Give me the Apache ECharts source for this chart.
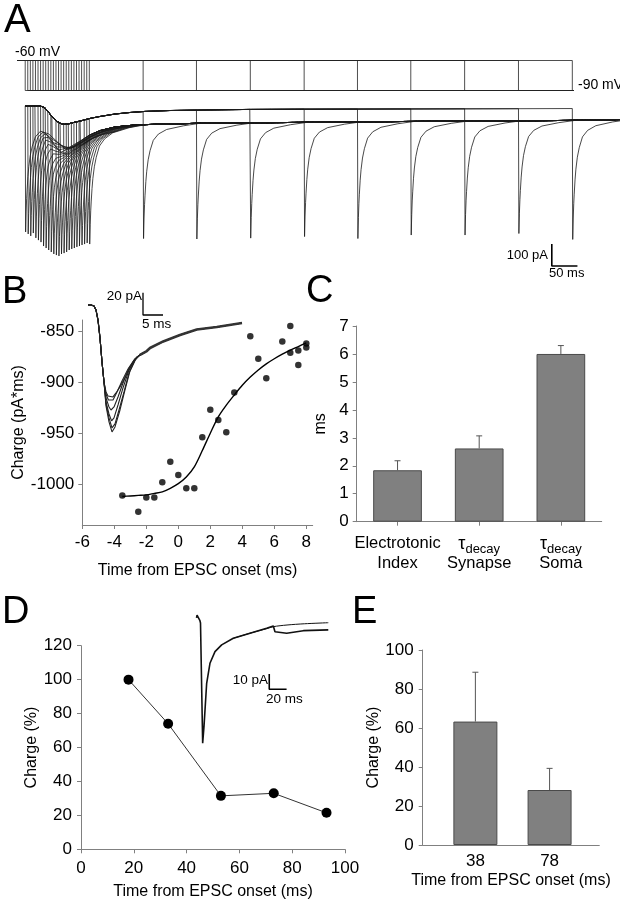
<!DOCTYPE html>
<html><head><meta charset="utf-8">
<script src="https://cdn.jsdelivr.net/npm/echarts@6/dist/echarts.min.js"></script>
<style>html,body{margin:0;padding:0;background:#fff}#c{width:620px;height:900px}</style>
</head><body><div id="c"></div>
<script>
const FONT = "'Liberation Sans', Arial, Helvetica, sans-serif";

// ---------- Panel A : voltage steps and current sweeps (ms, mV, pA) ----------
const denseOnsets = [16,21,26,31,36,41,46,51,56,61,66,71,76,81,86,91,96,101,106,111,116,121,126,131,136,141];
const densePeaks = [-568,-577,-586,-573,-595,-605,-614,-632,-641,-650,-659,-668,-673,-677,-668,-664,-659,-650,-645,-641,-636,-632,-627,-623,-618,-623];
const singleOnsets = [246,350,455,560,664,768,873,978,1083];
const singlePeaks = [-598,-600,-596,-589,-598,-582,-582,-575,-602];
// holding current at -60 mV (with the EPSC) and at -90 mV
const upperT = [16,35,47,55,60,68,76,84,92,100,111,123,142,162,191,220,250,298,357,454,552,747,942,1085];
const upperI = [5,5,3,-5,-20,-42,-62,-74,-79,-77,-70,-64,-52,-43,-32,-25,-20,-16,-14,-11,-10,-9,-8,-7];
const lowerT = [16,45,55,60,68,76,84,92,100,111,123,142,162,191,220,250,298,357,454,552,747,942,1084,1176];
const lowerI = [-64,-66,-73,-91,-123,-155,-175,-184,-184,-173,-155,-127,-107,-91,-84,-80,-77,-74,-72,-70,-66,-63,-61,-57];
// transient relaxation read from one sweep: time after peak (ms), fraction of peak left
const decayDt = [0,1,2,2.9,4.5,6.2,9,12.7,19,29,45,78,110];
const decayFrac = [1,0.82,0.7,0.62,0.5,0.41,0.31,0.23,0.14,0.086,0.048,0.019,0];
const holdMV = -60, stepMV = -90;
const vSweepEnd = 1085;

// ---------- Panel B ----------
const bTime = [-3.5,-2.5,-2,-1.5,-1,-0.5,0,0.5,1,1.5,2,2.5,3,3.5,4.5,5,5.5,6.5,7,7,7.5,7.5,8,8];
const bCharge = [-1011,-1027,-1013,-1013,-998,-978,-991,-1004,-1004,-954,-927,-937,-949,-910,-855,-877,-896,-860,-845,-871,-869,-883,-862,-866];
const bFitTime = [-3.5,-3,-2.5,-2,-1.5,-1,-0.5,0,0.5,1,1.5,2,2.5,3,3.5,4,4.5,5,5.5,6,6.5,7,7.5,8];
const bFitCharge = [-1012,-1011.5,-1011,-1010.5,-1009,-1007.5,-1004,-999.5,-993,-983,-967,-950,-934,-922.5,-912.5,-903,-895,-888,-882,-877,-872.5,-868.5,-865,-861.5];
const bYTicks = [-1000,-950,-900,-850];
const bXTicks = [-6,-4,-2,0,2,4,6,8];
// inset EPSCs (ms, pA)
const bInsetRiseT = [0,0.75,1.5,2,2.5,3,3.5,4];
const bInsetRiseI = [0,0,-0.9,-4.5,-13.5,-29.6,-51.1,-69.1];
const bInsetPeakT = [
  [4.5,5,5.5,6.25,7,8,9.7,11.3,13],
  [4.5,5.1,5.6,6.25,7.25,8.5,10,11.5,13],
  [4.5,5.25,5.75,6.5,7.5,8.75,10.25,11.75,13],
  [4.5,5.25,5.9,6.5,7.5,8.75,10.25,11.75,13],
  [4.5,5.25,6,6.75,7.75,9,10.25,11.75,13],
  [4.5,5.25,6,6.75,8,9.25,10.5,12.2,13]];
const bInsetPeakI = [
  [-78,-81.6,-83,-82.5,-78.9,-73.5,-61.9,-51.1,-44.8],
  [-79.8,-85.2,-86.5,-85.2,-78,-68.2,-57.4,-49.3,-44.8],
  [-83.4,-91.5,-94.2,-91.5,-82.5,-70,-56.5,-48.4,-44.8],
  [-87,-97.8,-104,-101.3,-89.7,-74.4,-58.3,-48.4,-44.8],
  [-88.8,-101.3,-110.3,-106.7,-94.2,-78,-61,-49.3,-44.8],
  [-90.6,-104.9,-113.9,-109.4,-94.2,-76.2,-59.2,-46.6,-44.8]];
const bInsetTailT = [13,14.7,15.5,18.8,23,27.2,32.2,38.5];
const bInsetTailI = [-44.8,-41.3,-38.6,-32.7,-26.9,-22,-19.7,-16.1];

// ---------- Panel C ----------
const cCategories = ['Electrotonic\nIndex', '{t|τ}{s|decay}\nSynapse', '{t|τ}{s|decay}\nSoma'];
const cValues = [1.84, 2.62, 6.0];
const cErrors = [0.34, 0.45, 0.30];

// ---------- Panel D ----------
const dTime = [18, 33, 53, 73, 93];
const dCharge = [100, 74, 31.5, 33, 21.5];
const dInsetT = [0.6,1.2,2.2,3.4,4.4,5.2,7.7,9.2,12.3,16.1,21.9,29.6,43,62.3,81.5,89.2,91.1,104.6,123.8,152.6];
const dInsetI = [0,1.8,2.4,1.6,-1.5,-3.3,-81.9,-71,-42.7,-29.6,-22,-17.6,-13.3,-10,-6.7,-5.2,-9,-10,-8.3,-7.8];
const dFitT = [43,62,81.5,89,105,125,152.6];
const dFitI = [-13.3,-10,-7,-5.7,-4.6,-3.8,-3.1];

// ---------- Panel E ----------
const eTime = [38, 78];
const eCharge = [63.3, 28.2];
const eErrors = [25.3, 11.1];

// ---------- helpers ----------
function lookup(ts, vs, t) {
  if (t <= ts[0]) return vs[0];
  for (let k = 1; k < ts.length; k++) {
    if (t <= ts[k]) { const a = (t - ts[k-1]) / (ts[k] - ts[k-1]); return vs[k-1] + a * (vs[k] - vs[k-1]); }
  }
  return vs[vs.length - 1];
}
function currentSweep(t0, peak) {
  const pts = [];
  upperT.forEach((t, k) => { if (t < t0) pts.push([t, upperI[k]]); });
  pts.push([t0, lookup(upperT, upperI, t0)]);
  const tp = t0 + 0.8;
  const amp = peak - lookup(lowerT, lowerI, tp);
  decayDt.forEach((d, k) => { const t = tp + d; pts.push([t, lookup(lowerT, lowerI, t) + decayFrac[k] * amp]); });
  const tEnd = tp + decayDt[decayDt.length - 1];
  lowerT.forEach((t, k) => { if (t > tEnd) pts.push([t, lowerI[k]]); });
  return pts;
}
const zip = (a, b) => a.map((v, i) => [v, b[i]]);

const lineBase = { type: 'line', symbol: 'none', showSymbol: false, silent: true, animation: false };
const series = [];

// Panel A sweeps
const allOnsets = denseOnsets.concat(singleOnsets);
const allPeaks = densePeaks.concat(singlePeaks);
allOnsets.forEach((t0, i) => {
  series.push(Object.assign({}, lineBase, { xAxisIndex: 0, yAxisIndex: 0,
    data: [[0, holdMV], [t0, holdMV], [t0, stepMV], [vSweepEnd, stepMV]],
    lineStyle: { width: 0.8, color: '#222' } }));
  series.push(Object.assign({}, lineBase, { xAxisIndex: 1, yAxisIndex: 1,
    data: currentSweep(t0, allPeaks[i]), lineStyle: { width: 0.8, color: '#1a1a1a' } }));
});
// scale bar A: 100 pA / 50 ms
const sbA = { t: 1043, i: -623, dI: 100, dT: 50 };
series.push(Object.assign({}, lineBase, { xAxisIndex: 1, yAxisIndex: 1,
  data: [[sbA.t, sbA.i], [sbA.t, sbA.i - sbA.dI], [sbA.t + sbA.dT, sbA.i - sbA.dI]],
  lineStyle: { width: 1.6, color: '#000' } }));

// Panel B
series.push({ type: 'scatter', xAxisIndex: 2, yAxisIndex: 2, data: zip(bTime, bCharge),
  symbol: 'circle', symbolSize: 6.5, itemStyle: { color: '#000' }, animation: false, silent: true, z: 5 });
series.push(Object.assign({}, lineBase, { xAxisIndex: 2, yAxisIndex: 2, data: zip(bFitTime, bFitCharge),
  smooth: 0.3, lineStyle: { width: 1.4, color: '#000' } }));
bInsetPeakT.forEach((ts, k) => {
  const data = zip(bInsetRiseT, bInsetRiseI).concat(zip(ts, bInsetPeakI[k])).concat(zip(bInsetTailT.slice(1), bInsetTailI.slice(1)));
  series.push(Object.assign({}, lineBase, { xAxisIndex: 3, yAxisIndex: 3, data,
    lineStyle: { width: 1.1, color: '#222' } }));
});
series.push(Object.assign({}, lineBase, { xAxisIndex: 3, yAxisIndex: 3, data: zip(bInsetTailT, bInsetTailI),
  lineStyle: { width: 2.6, color: '#333' } }));
const sbB = { t: 13.75, i: 11, dI: 20, dT: 5 };
series.push(Object.assign({}, lineBase, { xAxisIndex: 3, yAxisIndex: 3,
  data: [[sbB.t, sbB.i], [sbB.t, sbB.i - sbB.dI], [sbB.t + sbB.dT, sbB.i - sbB.dI]],
  lineStyle: { width: 1.3, color: '#000' } }));

// error bar renderer
function errorBars(xIdx, yIdx, xs, vals, errs) {
  return { type: 'custom', xAxisIndex: xIdx, yAxisIndex: yIdx, silent: true, animation: false, z: 4,
    data: vals.map((v, i) => [xs[i], v, v + errs[i]]),
    renderItem: (params, api) => {
      const p0 = api.coord([api.value(0), api.value(1)]);
      const p1 = api.coord([api.value(0), api.value(2)]);
      return { type: 'group', children: [
        { type: 'line', shape: { x1: p0[0], y1: p0[1], x2: p1[0], y2: p1[1] }, style: { stroke: '#555', lineWidth: 1 } },
        { type: 'line', shape: { x1: p1[0] - 3, y1: p1[1], x2: p1[0] + 3, y2: p1[1] }, style: { stroke: '#555', lineWidth: 1 } }
      ] };
    } };
}

// Panel C
series.push({ type: 'bar', xAxisIndex: 4, yAxisIndex: 4, data: cValues, barWidth: 48.7, animation: false, silent: true,
  itemStyle: { color: '#808080', borderColor: '#4a4a4a', borderWidth: 1 } });
series.push(errorBars(4, 4, [0, 1, 2], cValues, cErrors));

// Panel D
series.push({ type: 'line', xAxisIndex: 5, yAxisIndex: 5, data: zip(dTime, dCharge), symbol: 'circle', symbolSize: 10,
  itemStyle: { color: '#000' }, lineStyle: { width: 1, color: '#333' }, animation: false, silent: true, z: 5 });
series.push(Object.assign({}, lineBase, { xAxisIndex: 6, yAxisIndex: 6, data: zip(dInsetT, dInsetI),
  lineStyle: { width: 1.6, color: '#111' } }));
series.push(Object.assign({}, lineBase, { xAxisIndex: 6, yAxisIndex: 6, data: zip(dFitT, dFitI), smooth: 0.3,
  lineStyle: { width: 1, color: '#111' } }));
const sbD = { t: 84.5, i: -36.6, dI: 10, dT: 20 };
series.push(Object.assign({}, lineBase, { xAxisIndex: 6, yAxisIndex: 6,
  data: [[sbD.t, sbD.i], [sbD.t, sbD.i - sbD.dI], [sbD.t + sbD.dT, sbD.i - sbD.dI]],
  lineStyle: { width: 1.6, color: '#000' } }));

// Panel E
series.push({ type: 'bar', xAxisIndex: 7, yAxisIndex: 7, data: zip(eTime, eCharge), barWidth: 44, animation: false, silent: true,
  itemStyle: { color: '#808080', borderColor: '#4a4a4a', borderWidth: 1 } });
series.push(errorBars(7, 7, eTime, eCharge, eErrors));

// ---------- axes ----------
const axisLineStyle = { lineStyle: { color: '#808080', width: 1 } };
const tickStyle = { show: true, inside: false, length: 4, lineStyle: { color: '#808080' } };
const plain = v => String(v);
const labelStyle = { color: '#000', fontFamily: FONT, fontSize: 17, formatter: plain };
const nameStyle = { color: '#000', fontFamily: FONT, fontSize: 16 };
const hidden = { show: false };

const grid = [
  { left: 17, top: 60.5, width: 603, height: 30 },        // 0 A voltage
  { left: 17, top: 100.4, width: 603, height: 169.4 },    // 1 A current
  { left: 82.3, top: 320, width: 230.4, height: 205 },    // 2 B
  { left: 88, top: 291.6, width: 154, height: 158.3 },    // 3 B inset
  { left: 356.7, top: 326, width: 245, height: 195.7 },   // 4 C
  { left: 81, top: 645.7, width: 264, height: 203.6 },    // 5 D
  { left: 196, top: 599.6, width: 138.7, height: 156.1 }, // 6 D inset
  { left: 422.7, top: 650, width: 176.6, height: 195 }    // 7 E
].map(g => Object.assign({ outerBoundsMode: 'none', containLabel: false }, g));

const xAxis = [
  Object.assign({ type: 'value', gridIndex: 0, min: 0, max: 1176 }, hidden),
  Object.assign({ type: 'value', gridIndex: 1, min: 0, max: 1176 }, hidden),
  { type: 'value', gridIndex: 2, min: -6, max: 8.4, axisLine: Object.assign({ show: true, onZero: false }, axisLineStyle),
    axisTick: Object.assign({ customValues: bXTicks }, tickStyle),
    axisLabel: Object.assign({}, labelStyle, { customValues: bXTicks, margin: 9 }), splitLine: hidden,
    name: 'Time from EPSC onset (ms)', nameLocation: 'middle', nameGap: 38, nameTextStyle: nameStyle },
  Object.assign({ type: 'value', gridIndex: 3, min: 0, max: 38.5 }, hidden),
  { type: 'category', gridIndex: 4, data: cCategories, boundaryGap: true,
    axisLine: Object.assign({ show: true }, axisLineStyle),
    axisTick: Object.assign({ alignWithLabel: true }, tickStyle),
    axisLabel: { color: '#000', fontFamily: FONT, fontSize: 16.5, margin: 12, lineHeight: 20, interval: 0,
      rich: { t: { fontFamily: FONT, fontSize: 18, lineHeight: 20, color: '#000' },
              s: { fontFamily: FONT, fontSize: 13, lineHeight: 20, color: '#000', padding: [12, 0, 0, 0] } } } },
  { type: 'value', gridIndex: 5, min: 0, max: 100, interval: 20, axisLine: Object.assign({ show: true, onZero: false }, axisLineStyle),
    axisTick: tickStyle, axisLabel: Object.assign({}, labelStyle, { margin: 11 }), splitLine: hidden,
    name: 'Time from EPSC onset (ms)', nameLocation: 'middle', nameGap: 34, nameTextStyle: nameStyle },
  Object.assign({ type: 'value', gridIndex: 6, min: 0, max: 160 }, hidden),
  { type: 'value', gridIndex: 7, min: 9.6, max: 104.8, axisLine: Object.assign({ show: true, onZero: false }, axisLineStyle),
    axisTick: { show: false }, axisLabel: Object.assign({}, labelStyle, { customValues: eTime, margin: 8 }), splitLine: hidden,
    name: 'Time from EPSC onset (ms)', nameLocation: 'middle', nameGap: 28, nameTextStyle: nameStyle }
];
const yAxis = [
  Object.assign({ type: 'value', gridIndex: 0, min: stepMV, max: holdMV }, hidden),
  Object.assign({ type: 'value', gridIndex: 1, min: -740, max: 30 }, hidden),
  { type: 'value', gridIndex: 2, min: -1040, max: -839, axisLine: Object.assign({ show: true, onZero: false }, axisLineStyle),
    axisTick: Object.assign({ customValues: bYTicks }, tickStyle),
    axisLabel: Object.assign({}, labelStyle, { customValues: bYTicks, margin: 8 }), splitLine: hidden,
    name: 'Charge (pA*ms)', nameLocation: 'middle', nameGap: 54, nameTextStyle: nameStyle },
  Object.assign({ type: 'value', gridIndex: 3, min: -130, max: 12 }, hidden),
  { type: 'value', gridIndex: 4, min: 0, max: 7, interval: 1, axisLine: Object.assign({ show: true }, axisLineStyle),
    axisTick: tickStyle, axisLabel: Object.assign({}, labelStyle, { margin: 8 }), splitLine: hidden,
    name: 'ms', nameLocation: 'middle', nameGap: 28, nameTextStyle: nameStyle },
  { type: 'value', gridIndex: 5, min: 0, max: 120, interval: 20, axisLine: Object.assign({ show: true, onZero: false }, axisLineStyle),
    axisTick: tickStyle, axisLabel: Object.assign({}, labelStyle, { margin: 9 }), splitLine: hidden,
    name: 'Charge (%)', nameLocation: 'middle', nameGap: 40, nameTextStyle: nameStyle },
  Object.assign({ type: 'value', gridIndex: 6, min: -90, max: 12 }, hidden),
  { type: 'value', gridIndex: 7, min: 0, max: 100, interval: 20, axisLine: Object.assign({ show: true, onZero: false }, axisLineStyle),
    axisTick: tickStyle, axisLabel: Object.assign({}, labelStyle, { margin: 9 }), splitLine: hidden,
    name: 'Charge (%)', nameLocation: 'middle', nameGap: 34, nameTextStyle: nameStyle }
];

function txt(text, x, y, size, align) {
  return { type: 'text', x, y, silent: true,
    style: { text, fontFamily: FONT, fontSize: size, fill: '#000', align: align || 'left', verticalAlign: 'middle' } };
}
const graphic = [
  txt('A', 4, 21, 40), txt('B', 2, 293, 38), txt('C', 306, 292, 38), txt('D', 2, 613, 38), txt('E', 352, 613, 38),
  txt('-60 mV', 15, 52, 14), txt('-90 mV', 578, 85, 14),
  txt('100 pA', 548, 255, 13, 'right'), txt('50 ms', 549, 273, 13),
  txt('20 pA', 142, 296, 13.5, 'right'), txt('5 ms', 142, 324, 13.5),
  txt('10 pA', 268, 680, 13.5, 'right'), txt('20 ms', 266, 699, 13.5)
];

const chart = echarts.init(document.getElementById('c'), null, { renderer: 'canvas' });
chart.setOption({ animation: false, backgroundColor: '#fff', grid, xAxis, yAxis, series, graphic });
</script></body></html>
